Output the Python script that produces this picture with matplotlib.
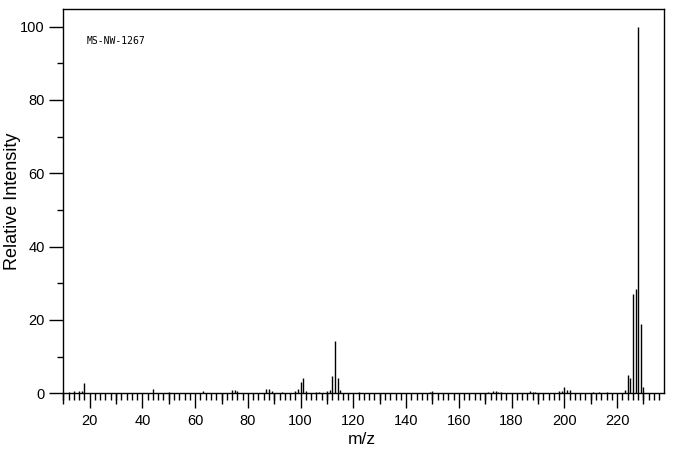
import numpy as np
import matplotlib
matplotlib.use("Agg")
import matplotlib.pyplot as plt
from matplotlib.ticker import MultipleLocator, NullFormatter

plt.rcParams['font.family'] = ['Liberation Sans', 'DejaVu Sans']

# peak list
mz = [12, 14, 16, 17, 18, 44, 50, 63, 74, 75, 76, 87, 88, 89, 93,
      98, 99, 100, 101, 102, 106, 107, 110, 111, 112, 113, 114, 115,
      122, 149, 150, 171, 173, 174, 175, 176, 187, 188, 189,
      198, 199, 200, 201, 202, 211, 213, 216,
      223, 224, 225, 226, 227, 228, 229, 230]
intensity = [0.4, 0.6, 0.6, 0.6, 2.7, 1.2, 0.3, 0.6, 0.9, 1.0, 0.6, 1.2, 1.2, 0.5, 0.3,
             0.5, 1.2, 3.0, 4.1, 0.7, 0.3, 0.3, 0.5, 1.0, 4.7, 14.2, 4.3, 0.8,
             0.3, 0.4, 0.5, 0.3, 0.5, 0.6, 0.4, 0.3, 0.6, 0.4, 0.4,
             0.5, 0.7, 1.6, 0.9, 0.8, 0.3, 0.3, 0.3,
             0.8, 4.9, 4.3, 27.2, 28.4, 100.0, 18.9, 1.7]
label = "MS-NW-1267"

fig = plt.figure(figsize=(6.76, 4.55), dpi=100)
ax = fig.add_axes([0.0932, 0.1356, 0.8895, 0.844])

ax.vlines(mz, 0, intensity, color="black", linewidth=1.0)

ax.set_xlim(9.9, 237.9)
ax.set_ylim(0, 104.7)

for s in ax.spines.values():
    s.set_linewidth(1.0)
    s.set_color("black")

ax.xaxis.set_major_locator(MultipleLocator(20))
ax.xaxis.set_minor_locator(MultipleLocator(2))
ax.yaxis.set_major_locator(MultipleLocator(20))
ax.yaxis.set_minor_locator(MultipleLocator(10))
ax.tick_params(axis="x", which="major", length=11, width=1.0, pad=4, labelsize=10.5)
ax.tick_params(axis="x", which="minor", length=5, width=1.0)
ax.tick_params(axis="y", which="major", length=10, width=1.0, pad=3, labelsize=10.5)
ax.tick_params(axis="y", which="minor", length=4, width=1.0)

# medium ticks every 10
sec = ax.secondary_xaxis("bottom")
sec.set_xticks(np.arange(10, 240, 20))
sec.xaxis.set_major_formatter(NullFormatter())
sec.tick_params(length=8, width=1.0)
sec.spines["bottom"].set_visible(False)

ax.set_xlabel("m/z", fontsize=12.5)
ax.xaxis.set_label_coords(0.497, -0.10)
ax.set_ylabel("Relative Intensity", fontsize=13)
ax.yaxis.set_label_coords(-0.07, 0.5)

ax.text(0.04, 0.917, label, transform=ax.transAxes, fontsize=7,
        family="DejaVu Sans Mono", va="center", ha="left")

fig.savefig("out.png", dpi=100)
